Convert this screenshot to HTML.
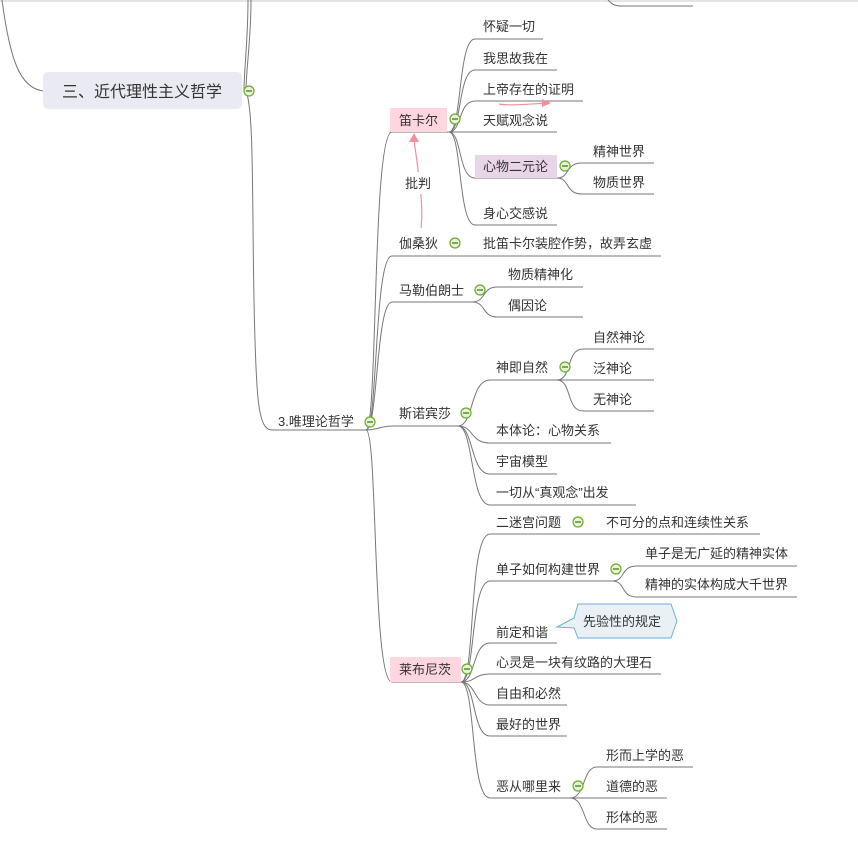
<!DOCTYPE html>
<html><head><meta charset="utf-8"><style>
body{margin:0;background:#fff;}
svg{display:block;font-family:"Liberation Sans","Noto Sans CJK SC",sans-serif;}
text{font-size:13px;fill:#333;}
</style></head><body>
<svg width="858" height="859" viewBox="0 0 858 859">
<rect x="0" y="0" width="858" height="2" fill="#e4e4e4"/>
<g fill="none" stroke="#777" stroke-width="1">
<path d="M2,0 C10,60 20,88 43,91"/>
<path d="M251,0 C251,40 246,70 246,91"/>
<path d="M248,0 C248,40 244,70 244,91"/>
<path d="M246,91 C254,110 252,200 254,300 C256,400 258,430 272,430"/>
<path d="M608,0 C612,4 614,6 622,6 L693,6"/>
<path d="M272,430 L366,430"/>
<path d="M366,430 C378,430 372,132 392,132 L449,132"/>
<path d="M366,430 C378,430 374,256 392,256 L449,256"/>
<path d="M366,430 C378,430 376,302 392,302 L472,302"/>
<path d="M366,430 C378,430 380,426 392,426 L458,426"/>
<path d="M366,430 C378,430 372,682 392,682 L461,682"/>
<path d="M449,132 C462,132 458,39 475,39 L543,39"/>
<path d="M449,132 C462,132 458,70 475,70 L557,70"/>
<path d="M449,132 C462,132 458,101 475,101 L583,101"/>
<path d="M449,132 L557,132"/>
<path d="M449,132 C462,132 458,178 475,178 L557,178"/>
<path d="M449,132 C462,132 458,225 475,225 L557,225"/>
<path d="M557,178 C570,178 565,163 582,163 L654,163"/>
<path d="M557,178 C570,178 565,194 582,194 L654,194"/>
<path d="M449,256 L661,256"/>
<path d="M472,302 C486,302 482,287 497,287 L583,287"/>
<path d="M472,302 C486,302 482,317 497,317 L583,317"/>
<path d="M458,426 C474,426 470,380 490,380 L557,380"/>
<path d="M458,426 C474,426 470,443 490,443 L611,443"/>
<path d="M458,426 C474,426 470,474 490,474 L557,474"/>
<path d="M458,426 C474,426 470,505 490,505 L636,505"/>
<path d="M557,380 C572,380 566,349 583,349 L654,349"/>
<path d="M557,380 L654,380"/>
<path d="M557,380 C572,380 566,411 583,411 L654,411"/>
<path d="M461,682 C476,682 468,534 490,534 L760,534"/>
<path d="M461,682 C476,682 470,581 490,581 L612,581"/>
<path d="M461,682 C476,682 472,643 490,643 L557,643"/>
<path d="M461,682 C476,682 474,674 490,674 L661,674"/>
<path d="M461,682 C476,682 474,705 490,705 L567,705"/>
<path d="M461,682 C476,682 472,736 490,736 L567,736"/>
<path d="M461,682 C476,682 470,798 490,798 L570,798"/>
<path d="M612,581 C626,581 620,566 637,566 L797,566"/>
<path d="M612,581 C626,581 620,597 637,597 L797,597"/>
<path d="M570,798 C586,798 582,767 597,767 L693,767"/>
<path d="M570,798 L667,798"/>
<path d="M570,798 C586,798 582,829 597,829 L667,829"/>
</g>
<g fill="none" stroke="#f0909c" stroke-width="1.2">
<path d="M421,228 C424,205 418,170 414,140"/>
<path d="M499,104 C510,106 530,104 548,103"/>
</g>
<path d="M414,133 L409,142 L419,142 Z" fill="#f0909c"/>
<path d="M551,103 L542,99 L542,107 Z" fill="#f0909c"/>
<rect x="403" y="172" width="32" height="22" fill="#fff"/>
<text x="405" y="188">批判</text>
<rect x="43" y="72" width="199" height="37" rx="5" fill="#eaeaf2"/>
<text x="62" y="97" style="font-size:16px">三、近代理性主义哲学</text>
<rect x="390" y="108" width="57" height="24" fill="#fdd6e0"/>
<text x="399" y="125">笛卡尔</text>
<rect x="475" y="155" width="82" height="23" fill="#e8d5e8"/>
<text x="483" y="171">心物二元论</text>
<rect x="390" y="657" width="71" height="25" fill="#fdd6e0"/>
<text x="399" y="674">莱布尼茨</text>
<path d="M557,627 L574,618 L578,604 L671,604 L677,621 L671,638 L578,638 L574,628 Z" fill="#e9f0f6" stroke="#6bb3d6" stroke-width="1"/>
<text x="583" y="626">先验性的规定</text>
<text x="278" y="426">3.唯理论哲学</text>
<text x="483" y="31">怀疑一切</text>
<text x="483" y="63">我思故我在</text>
<text x="483" y="94">上帝存在的证明</text>
<text x="483" y="125">天赋观念说</text>
<text x="593" y="156">精神世界</text>
<text x="593" y="187">物质世界</text>
<text x="483" y="218">身心交感说</text>
<text x="399" y="248">伽桑狄</text>
<text x="483" y="248">批笛卡尔装腔作势，故弄玄虚</text>
<text x="399" y="295">马勒伯朗士</text>
<text x="508" y="279">物质精神化</text>
<text x="508" y="310">偶因论</text>
<text x="399" y="418">斯诺宾莎</text>
<text x="496" y="372">神即自然</text>
<text x="593" y="342">自然神论</text>
<text x="593" y="373">泛神论</text>
<text x="593" y="404">无神论</text>
<text x="496" y="435">本体论：心物关系</text>
<text x="496" y="466">宇宙模型</text>
<text x="496" y="497">一切从“真观念”出发</text>
<text x="496" y="527">二迷宫问题</text>
<text x="606" y="527">不可分的点和连续性关系</text>
<text x="496" y="574">单子如何构建世界</text>
<text x="645" y="558">单子是无广延的精神实体</text>
<text x="645" y="589">精神的实体构成大千世界</text>
<text x="496" y="637">前定和谐</text>
<text x="496" y="667">心灵是一块有纹路的大理石</text>
<text x="496" y="698">自由和必然</text>
<text x="496" y="729">最好的世界</text>
<text x="496" y="791">恶从哪里来</text>
<text x="606" y="760">形而上学的恶</text>
<text x="606" y="791">道德的恶</text>
<text x="606" y="822">形体的恶</text>
<g fill="#e6f3d6" stroke="#6aaa2c" stroke-width="1.2">
<circle cx="249" cy="91" r="5"/><circle cx="370" cy="422" r="5"/>
<circle cx="455" cy="119" r="5"/><circle cx="565" cy="166" r="5"/>
<circle cx="455" cy="243" r="5"/><circle cx="480" cy="290" r="5"/>
<circle cx="466" cy="413" r="5"/><circle cx="565" cy="367" r="5"/>
<circle cx="467" cy="669" r="5"/><circle cx="578" cy="522" r="5"/>
<circle cx="616" cy="569" r="5"/><circle cx="578" cy="786" r="5"/>
</g>
<g stroke="#3c7a14" stroke-width="1.2">
<path d="M246,91h6M367,422h6M452,119h6M562,166h6M452,243h6M477,290h6M463,413h6M562,367h6M464,669h6M575,522h6M613,569h6M575,786h6"/>
</g>
</svg>
</body></html>
